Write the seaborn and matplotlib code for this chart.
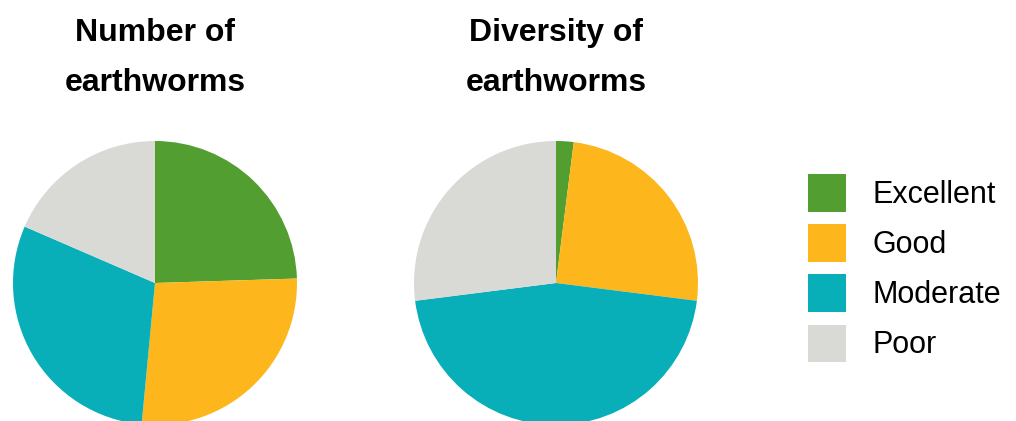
import matplotlib
matplotlib.use("Agg")
import matplotlib.pyplot as plt
from matplotlib.patches import Patch
import seaborn as sns

# Data
categories = ["Excellent", "Good", "Moderate", "Poor"]
number_values = [24.5, 27, 30, 18.5]
diversity_values = [2, 25, 46, 27]
titles = ["Number of\nearthworms", "Diversity of\nearthworms"]

colors = ["#529e30", "#fdb71d", "#08afb8", "#d9dad6"]

sns.set_theme(style="white")
plt.rcParams['font.family'] = ['Liberation Sans', 'DejaVu Sans']
plt.rcParams['text.color'] = 'black'

W, H = 1016, 421
fig = plt.figure(figsize=(W / 100, H / 100), dpi=100)

R = 142
centers = [(155, 283), (556, 283)]
series = [number_values, diversity_values]

for (cx, cy), vals, title in zip(centers, series, titles):
    ax = fig.add_axes([(cx - R) / W, (H - cy - R) / H, 2 * R / W, 2 * R / H])
    ax.pie(vals, colors=colors, startangle=90, counterclock=False,
           wedgeprops=dict(linewidth=0))
    ax.set_xlim(-1, 1)
    ax.set_ylim(-1, 1)
    ax.set_aspect("equal")
    ax.axis("off")
    fig.text(cx / W, 1 - 18 / H, title, ha="center", va="top",
             fontsize=23, fontweight="bold", linespacing=1.85)

handles = [Patch(facecolor=c, edgecolor="none") for c in colors]
fig.legend(handles, categories, loc="upper left",
           bbox_to_anchor=(796 / W, 1 - 162 / H), frameon=False,
           fontsize=22, handlelength=1.24, handleheight=1.5,
           labelspacing=0.42, handletextpad=0.85, borderaxespad=0)

fig.savefig("out.png", dpi=100)
